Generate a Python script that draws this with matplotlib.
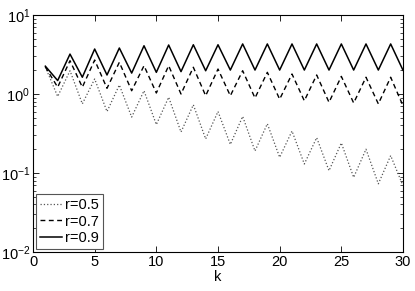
import matplotlib
matplotlib.use("Agg")
import matplotlib.pyplot as plt
import numpy as np

plt.rcParams['font.family'] = ['Liberation Sans', 'DejaVu Sans']
plt.rcParams['mathtext.fontset'] = 'custom'
plt.rcParams['mathtext.rm'] = 'Liberation Sans'
plt.rcParams['mathtext.it'] = 'Liberation Sans'

k = list(range(1, 31))
r05 = [2.2, 0.93, 1.97, 0.75, 1.55, 0.60, 1.30, 0.51, 1.10, 0.41,
       0.91, 0.33, 0.73, 0.27, 0.60, 0.23, 0.52, 0.19, 0.42, 0.158,
       0.34, 0.13, 0.28, 0.107, 0.24, 0.088, 0.20, 0.073, 0.166, 0.069]
r07 = [2.2, 1.22, 2.64, 1.22, 2.69, 1.18, 2.52, 1.10, 2.28, 1.03,
       2.28, 1.00, 2.18, 0.95, 2.07, 0.95, 1.97, 0.89, 1.88, 0.86,
       1.79, 0.82, 1.74, 0.785, 1.67, 0.77, 1.63, 0.75, 1.63, 0.71]
r09 = [2.25, 1.48, 3.2, 1.63, 3.71, 1.74, 3.82, 1.84, 4.08, 1.88,
       4.17, 1.92, 4.2, 1.97, 4.2, 2.01, 4.3, 2.01, 4.3, 2.01,
       4.3, 2.01, 4.3, 2.01, 4.3, 2.01, 4.3, 2.01, 4.3, 2.0]
labels = ['r=0.5', 'r=0.7', 'r=0.9']
xticks = [0, 5, 10, 15, 20, 25, 30]

fig = plt.figure(figsize=(4.15, 2.91), dpi=100)
ax = fig.add_axes([33/415, 1-252/291, (403-33)/415, (252-15)/291])
ax.plot(k, r05, linestyle=':', color='#555555', linewidth=0.9, label=labels[0])
ax.plot(k, r07, linestyle='--', color='black', linewidth=1.0, dashes=(3.5, 2.5), label=labels[1])
ax.plot(k, r09, linestyle='-', color='black', linewidth=1.1, label=labels[2])
ax.set_yscale('log')
ax.set_ylim(1e-2, 1e1)
ax.set_xlim(0, 30)
ax.set_xticks(xticks)
ax.tick_params(which='both', direction='in', top=True, right=True, labelsize=10.5)
ax.tick_params(axis='y', which='major', pad=2)
ax.tick_params(axis='x', which='major', pad=2)
ax.tick_params(which='major', length=4, width=0.6)
ax.tick_params(which='minor', length=2, width=0.5)
ax.tick_params(axis='x', which='minor', bottom=False, top=False)
for s in ax.spines.values():
    s.set_linewidth(0.8)
ax.set_xlabel('k', fontsize=10.5, labelpad=1)
leg = ax.legend(loc='lower left', fontsize=10.5, handlelength=1.5, handletextpad=0.2,
                borderpad=0.3, labelspacing=0.15, borderaxespad=0.2, fancybox=False,
                framealpha=1)
leg.get_frame().set_edgecolor('#555555')
leg.get_frame().set_linewidth(0.8)
fig.savefig('out.png', dpi=100)
